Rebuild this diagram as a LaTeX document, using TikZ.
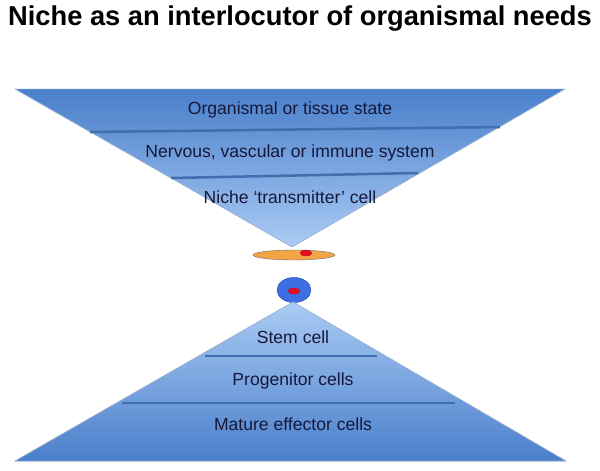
\documentclass[tikz,border=0pt]{standalone}
\usepackage{fontspec}
\setmainfont{Liberation Sans}
\usetikzlibrary{positioning,shapes.geometric}
\definecolor{deepblue}{HTML}{4A7FCB}
\definecolor{paleblue}{HTML}{AACBF4}
\definecolor{sepblue}{HTML}{416FAE}
\definecolor{textnavy}{HTML}{16183A}
\definecolor{nicheorange}{HTML}{F5A445}
\definecolor{dotred}{HTML}{E01020}
\definecolor{stemblue}{HTML}{3D6FE3}

\begin{document}
\begin{tikzpicture}
    [
    x=0.025cm, y=0.025cm,
    layer/.style={text=textnavy,font=\fontsize{12.5}{15}\selectfont,inner sep=1pt},
    sepline/.style={draw=sepblue,line width=1.8pt},
    funnel/.style={draw=sepblue!50,line width=0.3pt},
    reddot/.style={ellipse,fill=dotred,draw=dotred!80!black,line width=0.2pt,inner sep=0pt,minimum width=0.3cm,minimum height=0.15cm}
    ]
    \useasboundingbox (0,0) rectangle (600,470);
    \node (title) at (300,445) [anchor=base,font=\fontsize{19.4}{23}\selectfont\bfseries] {Niche as an interlocutor of organismal needs};

    \fill [funnel,top color=deepblue,bottom color=paleblue] (15,381) -- (565,381) -- (292,223) -- cycle;
    \draw [funnel] (15,381) -- (565,381) -- (292,223) -- cycle;
    \draw [sepline] (90,338) -- (500,343);
    \draw [sepline] (171,292) -- (418,297);
    \node (organism) at (290,360) [layer] {Organismal or tissue state};
    \node (systems) at (290,317) [layer] {Nervous, vascular or immune system};
    \node (transmitter) at (290,273) [layer] {Niche ‘transmitter’ cell};

    \node (niche) at (294,215) [ellipse,fill=nicheorange,draw=black!55,line width=0.3pt,inner sep=0pt,minimum width=2.05cm,minimum height=0.25cm] {};
    \node (nichedot) at (306,217) [reddot] {};
    \node (stemcell) at (294,180) [ellipse,fill=stemblue,draw=stemblue!70!black,line width=0.3pt,inner sep=0pt,minimum width=0.85cm,minimum height=0.63cm] {};
    \node (stemdot) at (294,179) [reddot] {};

    \fill [funnel,top color=paleblue,bottom color=deepblue] (293,168) -- (566,9) -- (15,9) -- cycle;
    \draw [funnel] (293,168) -- (566,9) -- (15,9) -- cycle;
    \draw [sepline] (205,114) -- (377,114);
    \draw [sepline] (122,67) -- (455,67);
    \node (stem) at (293,133) [layer] {Stem cell};
    \node (progenitor) at (293,89) [layer] {Progenitor cells};
    \node (mature) at (293,46) [layer] {Mature effector cells};
  \end{tikzpicture}
\end{document}
